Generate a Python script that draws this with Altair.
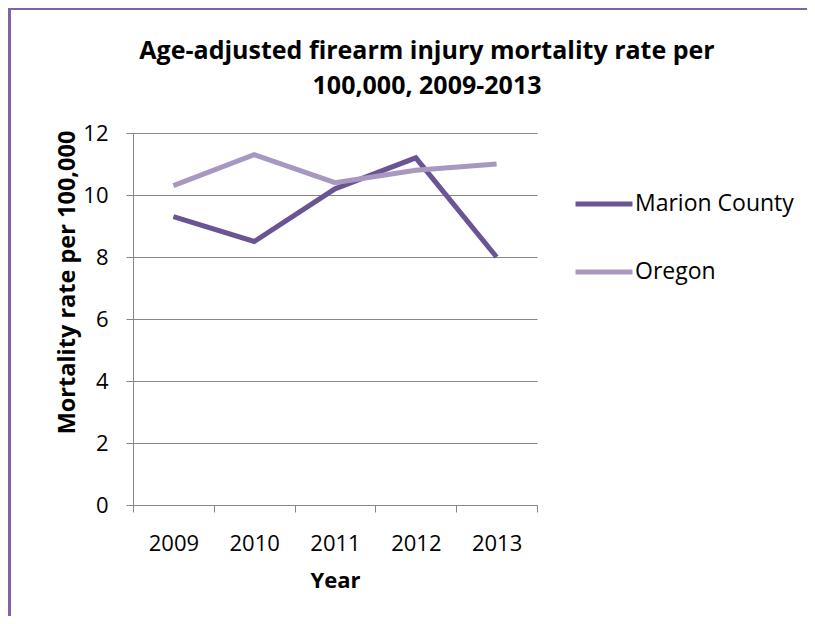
import altair as alt
import pandas as pd

years = ["2009", "2010", "2011", "2012", "2013"]
marion = [9.3, 8.5, 10.2, 11.2, 8.0]
oregon = [10.3, 11.3, 10.4, 10.8, 11.0]
series_names = ["Marion County", "Oregon"]
series_colors = ["#6A5494", "#A898C0"]
y_ticks = [0, 2, 4, 6, 8, 10, 12]
title_lines = ["Age-adjusted firearm injury mortality rate per", "100,000, 2009-2013"]

rows = []
for y, m, o in zip(years, marion, oregon):
    rows.append({"Year": y, "Series": series_names[0], "Rate": m})
    rows.append({"Year": y, "Series": series_names[1], "Rate": o})
df = pd.DataFrame(rows)

FONT = "Open Sans"
W, H = 404, 372
PL, PT = 125, 125

lines = alt.Chart(df).mark_line(strokeWidth=5, strokeCap="butt", strokeJoin="miter").encode(
    x=alt.X("Year:O", sort=years,
            scale=alt.Scale(type="band", paddingInner=0, paddingOuter=0),
            axis=alt.Axis(title="Year", labelAngle=0, tickBand="extent",
                          labelFontSize=22, labelPadding=21, titleFontSize=22,
                          titlePadding=16, tickSize=7, domainColor="#868686",
                          tickColor="#868686", labelColor="#000000",
                          titleColor="#000000", grid=False)),
    y=alt.Y("Rate:Q", scale=alt.Scale(domain=[0, 12]),
            axis=alt.Axis(title="Mortality rate per 100,000", values=y_ticks,
                          labelFontSize=22, labelPadding=18, titleFontSize=23.5,
                          tickSize=7, domainColor="#868686", tickColor="#868686",
                          gridColor="#868686", labelColor="#000000",
                          titleColor="#000000", titleX=-66, titleY=149,
                          titleAlign="center", titleBaseline="middle")),
    color=alt.Color("Series:N", sort=series_names,
                    scale=alt.Scale(domain=series_names, range=series_colors),
                    legend=alt.Legend(title=None, orient="none", legendX=440, legendY=40,
                                      symbolType="stroke", symbolSize=3249,
                                      symbolStrokeWidth=5, labelFontSize=23,
                                      labelOffset=0, rowPadding=25,
                                      labelColor="#000000")),
)

frame_df = pd.DataFrame({"k": [0]})
top_border = alt.Chart(frame_df).mark_rule(color="#8064A2", strokeWidth=3).encode(
    x=alt.value(-PL - 8), x2=alt.value(W + 300), y=alt.value(-PT + 0.5))
left_border = alt.Chart(frame_df).mark_rule(color="#8064A2", strokeWidth=3).encode(
    x=alt.value(-PL + 1.5), y=alt.value(-PT - 8), y2=alt.value(H + 200))
title = alt.Chart(frame_df).mark_text(
    text=title_lines, font=FONT, fontSize=25, fontWeight="bold", color="#000000",
    align="center", baseline="alphabetic", lineHeight=35
).encode(x=alt.value(294), y=alt.value(-74))

chart = alt.layer(top_border, left_border, title, lines).properties(
    width=W, height=H,
    autosize=alt.AutoSizeParams(type="none"),
    padding={"left": PL, "top": PT, "right": 815 - 16 - PL - W, "bottom": 624 - 16 - PT - H},
).configure(font=FONT).configure_view(stroke=None).configure_axis(
    labelFont=FONT, titleFont=FONT, titleFontWeight="bold"
).configure_legend(labelFont=FONT)

chart.save("out.html", embed_options={"renderer": "svg", "actions": False})
